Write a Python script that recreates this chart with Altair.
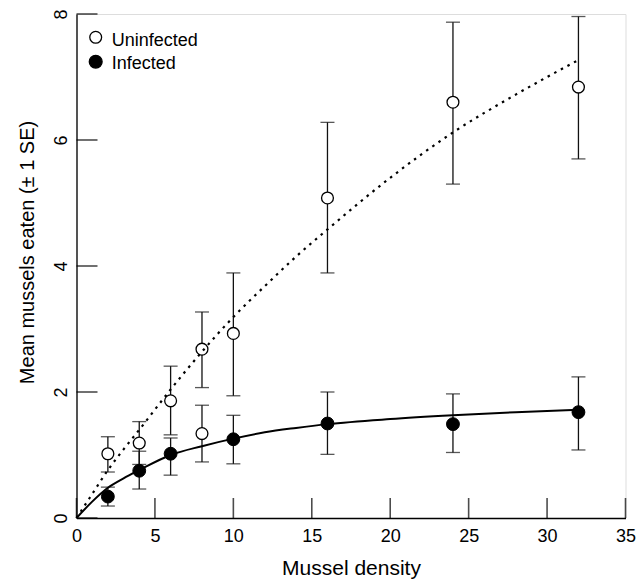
import altair as alt
import pandas as pd

# ---- data ----
# Uninfected crabs (open circles); the last entry is the extra open circle drawn at density 8
un_density = [2, 4, 6, 8, 10, 16, 24, 32, 8]
un_mean = [1.02, 1.19, 1.86, 2.68, 2.93, 5.08, 6.60, 6.84, 1.34]
un_lo = [0.73, 0.85, 1.32, 2.07, 1.94, 3.89, 5.30, 5.70, 0.89]
un_hi = [1.29, 1.53, 2.41, 3.27, 3.89, 6.28, 7.87, 7.96, 1.79]

# Infected crabs (filled circles)
inf_density = [2, 4, 6, 10, 16, 24, 32]
inf_mean = [0.34, 0.75, 1.02, 1.25, 1.50, 1.49, 1.68]
inf_lo = [0.19, 0.46, 0.68, 0.86, 1.01, 1.04, 1.08]
inf_hi = [0.49, 1.06, 1.27, 1.63, 2.00, 1.97, 2.24]

# Fitted functional-response curves
fit_density = [0, 1, 2, 3, 4, 6, 8, 10, 12, 14, 16, 20, 24, 28, 32]
fit_uninf = [0, 0.38, 0.76, 1.09, 1.40, 2.04, 2.64, 3.19, 3.68, 4.15, 4.58, 5.40, 6.12, 6.72, 7.27]
fit_inf = [0, 0.26, 0.48, 0.63, 0.76, 1.00, 1.14, 1.26, 1.36, 1.43, 1.49, 1.57, 1.63, 1.68, 1.72]

x_ticks = [0, 5, 10, 15, 20, 25, 30, 35]
y_ticks = [0, 2, 4, 6, 8]
legend_labels = ["Uninfected", "Infected"]

FONT = "Liberation Sans"
W, H = 549, 504

xs = alt.Scale(domain=[0, 35], nice=False, zero=False)
ys = alt.Scale(domain=[0, 8], nice=False, zero=False)

X_AX = alt.Axis(values=x_ticks, format="d", title="Mussel density", grid=False,
                ticks=False, labelFlush=False, labelOverlap=False,
                labelFont=FONT, labelFontSize=18, labelColor="black",
                labelPadding=9, labelBaseline="top",
                domainColor="black", domainWidth=1.3,
                titleFont=FONT, titleFontSize=21, titleFontWeight="normal",
                titleColor="black", titleY=56, titleBaseline="alphabetic")
Y_AX = alt.Axis(values=y_ticks, format="d", title="Mean mussels eaten (± 1 SE)",
                grid=False, ticks=False, labelFlush=False,
                labelOverlap=False, labelFont=FONT, labelFontSize=18,
                labelColor="black", labelAngle=270, labelAlign="center",
                labelBaseline="bottom", labelPadding=6,
                domainColor="black", domainWidth=1.3,
                titleFont=FONT, titleFontSize=20, titleFontWeight="normal",
                titleColor="black", titleAngle=270, titleX=-43, titleY=238,
                titleAlign="center", titleBaseline="alphabetic")


def xq(f):
    return alt.X(f"{f}:Q", scale=xs, axis=X_AX)


def yq(f):
    return alt.Y(f"{f}:Q", scale=ys, axis=Y_AX)


un_df = pd.DataFrame({"x": un_density, "y": un_mean, "lo": un_lo, "hi": un_hi})
inf_df = pd.DataFrame({"x": inf_density, "y": inf_mean, "lo": inf_lo, "hi": inf_hi})
fit_df = pd.DataFrame({"x": fit_density, "u": fit_uninf, "i": fit_inf})
xt_df = pd.DataFrame({"x": [float(v) for v in x_ticks]})
yt_df = pd.DataFrame({"y": [float(v) for v in y_ticks]})

layers = []

# error bars
for df in (un_df, inf_df):
    base = alt.Chart(df)
    layers.append(base.mark_rule(color="#111", strokeWidth=1.3).encode(
        x=xq("x"), y=yq("lo"), y2="hi"))
    layers.append(base.mark_tick(color="#111", orient="horizontal", size=14,
                                 thickness=1.3).encode(x=xq("x"), y=yq("lo")))
    layers.append(base.mark_tick(color="#111", orient="horizontal", size=14,
                                 thickness=1.3).encode(x=xq("x"), y=yq("hi")))

# inward axis ticks, drawn as tick marks positioned by the scales
layers.append(alt.Chart(xt_df).mark_tick(color="black", orient="vertical", size=20,
                                         thickness=1.6, yOffset=-10).encode(
    x=xq("x"), y=alt.value(H)))
layers.append(alt.Chart(yt_df).mark_tick(color="black", orient="horizontal", size=21,
                                         thickness=1.6, xOffset=10.5).encode(
    y=yq("y"), x=alt.value(0)))

# points
layers.append(alt.Chart(un_df).mark_point(shape="circle", filled=True, fill="white",
                                          stroke="black", strokeWidth=1.3, size=140,
                                          opacity=1).encode(x=xq("x"), y=yq("y")))
layers.append(alt.Chart(inf_df).mark_point(shape="circle", filled=True, fill="black",
                                           stroke="black", strokeWidth=1, size=165,
                                           opacity=1).encode(x=xq("x"), y=yq("y")))

# fitted curves
layers.append(alt.Chart(fit_df).mark_line(color="black", strokeWidth=2.2,
                                          strokeDash=[2.5, 5], interpolate="monotone").encode(
    x=xq("x"), y=yq("u")))
layers.append(alt.Chart(fit_df).mark_line(color="black", strokeWidth=2,
                                          interpolate="monotone").encode(
    x=xq("x"), y=yq("i")))

# legend
for i, lab in enumerate(legend_labels):
    ldf = pd.DataFrame({"label": [lab]})
    fillc = "white" if i == 0 else "black"
    layers.append(alt.Chart(ldf).mark_point(shape="circle", filled=True, fill=fillc,
                                            stroke="black", strokeWidth=1.3,
                                            size=140 if i == 0 else 165, opacity=1).encode(
        x=alt.value(19.2), y=alt.value(23.3 + 24.4 * i)))
    layers.append(alt.Chart(ldf).mark_text(align="left", baseline="alphabetic",
                                           font=FONT, fontSize=18, color="black").encode(
        x=alt.value(35.2), y=alt.value(31.7 + 23.6 * i), text="label:N"))

chart = alt.layer(*layers).properties(
    width=W, height=H,
    padding={"left": 68.5, "top": 6, "right": 10, "bottom": 62},
    autosize=alt.AutoSizeParams(type="none"),
).configure_view(stroke=None).configure(background="white")

chart.save("out.html", embed_options={"renderer": "svg", "actions": False})
